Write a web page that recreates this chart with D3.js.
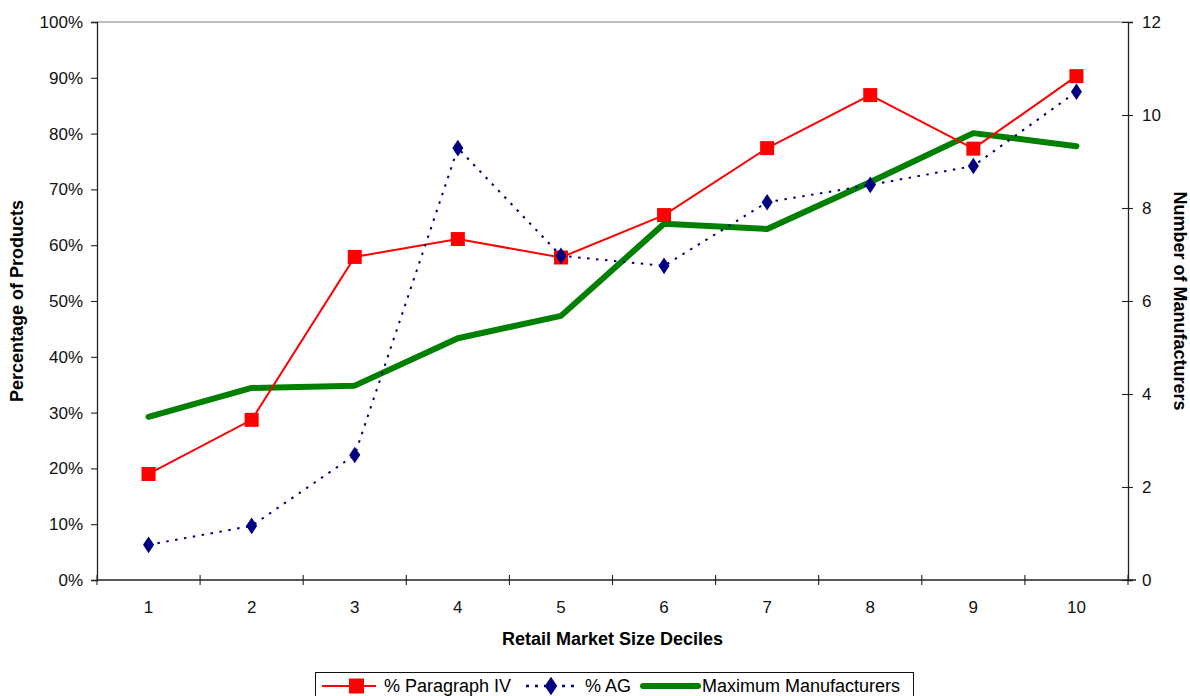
<!DOCTYPE html>
<html><head><meta charset="utf-8">
<script src="https://cdn.jsdelivr.net/npm/d3@7"></script>
<style>body{margin:0;background:#fff}svg{display:block;font-family:"Liberation Sans",Arial,sans-serif}</style>
</head><body><svg id="c" width="1190" height="696"></svg>
<script>
const categories = [1,2,3,4,5,6,7,8,9,10];
const paragraphIV = [0.19,0.287,0.579,0.611,0.578,0.654,0.774,0.869,0.773,0.903];
const pctAG = [0.063,0.097,0.224,0.774,0.581,0.563,0.677,0.708,0.742,0.875];
const maxManufacturers = [3.51,4.13,4.18,5.2,5.68,7.66,7.55,8.56,9.61,9.33];
const leftTicks = [0,0.1,0.2,0.3,0.4,0.5,0.6,0.7,0.8,0.9,1];
const rightTicks = [0,2,4,6,8,10,12];

const svg = d3.select("#c");
const L=97, R=1128, T=22, B=580;
const x = d3.scaleBand().domain(categories).range([L,R]);
const xc = d => x(d)+x.bandwidth()/2;
const yL = d3.scaleLinear().domain([0,1]).range([B,T]);
const yR = d3.scaleLinear().domain([0,12]).range([B,T]);
const FS = 17;

// top border
svg.append("line").attr("x1",L).attr("x2",R).attr("y1",T).attr("y2",T).attr("stroke","#808080").attr("stroke-width",1.2);

// left axis
const gl = svg.append("g").attr("transform",`translate(${L},0)`)
  .call(d3.axisLeft(yL).tickValues(leftTicks).tickFormat(d3.format(".0%")).tickSize(6).tickPadding(8));
// right axis
const gr = svg.append("g").attr("transform",`translate(${R},0)`)
  .call(d3.axisRight(yR).tickValues(rightTicks).tickSize(5).tickPadding(9));
gr.selectAll(".tick line").attr("x1",-6).attr("x2",5);
// bottom axis
const gb = svg.append("g").attr("transform",`translate(0,${B})`)
  .call(d3.axisBottom(x).tickSize(0).tickPadding(21));
[gl,gr,gb].forEach(g=>{
  g.select(".domain").attr("stroke","#222").attr("stroke-width",1.3);
  g.selectAll(".tick line").attr("stroke","#222").attr("stroke-width",1.1);
  g.selectAll("text").attr("font-size",FS).attr("fill","#111").attr("font-family","Liberation Sans, Arial, sans-serif");
});
gb.select(".domain").attr("d",`M${L},0H${R+8}`);
// bottom separators between categories
const seps = categories.map(c=>x(c)).concat([R]);
gb.selectAll(".sep").data(seps).enter().append("line")
  .attr("x1",d=>d).attr("x2",d=>d).attr("y1",-5).attr("y2",5).attr("stroke","#222").attr("stroke-width",1.1);

// axis titles
svg.append("text").attr("x",(L+R)/2).attr("y",645).attr("text-anchor","middle")
  .attr("font-size",18).attr("font-weight","bold").text("Retail Market Size Deciles");
svg.append("text").attr("transform",`translate(23,${(T+B)/2}) rotate(-90)`).attr("text-anchor","middle")
  .attr("font-size",18).attr("font-weight","bold").text("Percentage of Products");
svg.append("text").attr("transform",`translate(1174,${(T+B)/2}) rotate(90)`).attr("text-anchor","middle")
  .attr("font-size",18).attr("font-weight","bold").text("Number of Manufacturers");

// series
const lineL = d3.line().x((d,i)=>xc(categories[i])).y(d=>yL(d));
const lineR = d3.line().x((d,i)=>xc(categories[i])).y(d=>yR(d));

svg.append("path").attr("d",lineR(maxManufacturers)).attr("fill","none")
  .attr("stroke","#008000").attr("stroke-width",6).attr("stroke-linejoin","round").attr("stroke-linecap","round");

svg.append("path").attr("d",lineL(paragraphIV)).attr("fill","none").attr("stroke","#ff0000").attr("stroke-width",2);
svg.selectAll(".sq").data(paragraphIV).enter().append("rect")
  .attr("x",(d,i)=>xc(categories[i])-7).attr("y",d=>yL(d)-7).attr("width",14).attr("height",14).attr("fill","#ff0000");

svg.append("path").attr("d",lineL(pctAG)).attr("fill","none").attr("stroke","#000080")
  .attr("stroke-width",2).attr("stroke-dasharray","2.5,6.5");
const dia = d3.symbol().type(d3.symbolDiamond).size(80);
svg.selectAll(".dm").data(pctAG).enter().append("path")
  .attr("d",dia).attr("transform",(d,i)=>`translate(${xc(categories[i])},${yL(d)}) scale(1.15,1)`).attr("fill","#000080");

// legend
const lg = svg.append("g");
lg.append("rect").attr("x",315.5).attr("y",672.5).attr("width",598).attr("height",30).attr("fill","#fff").attr("stroke","#111").attr("stroke-width",1);
const ly = 686;
lg.append("line").attr("x1",322).attr("x2",376).attr("y1",ly).attr("y2",ly).attr("stroke","#ff0000").attr("stroke-width",2);
lg.append("rect").attr("x",349).attr("y",ly-7.5).attr("width",15).attr("height",15).attr("fill","#ff0000");
lg.append("text").attr("x",384).attr("y",ly+6).attr("font-size",18).text("% Paragraph IV");
lg.append("line").attr("x1",526).attr("x2",580).attr("y1",ly).attr("y2",ly).attr("stroke","#000080").attr("stroke-width",2.5).attr("stroke-dasharray","3,6");
lg.append("path").attr("d",dia).attr("transform",`translate(551,${ly}) scale(1.3,1.1)`).attr("fill","#000080");
lg.append("text").attr("x",585).attr("y",ly+6).attr("font-size",18).text("% AG");
lg.append("line").attr("x1",643).attr("x2",698).attr("y1",ly).attr("y2",ly).attr("stroke","#008000").attr("stroke-width",6).attr("stroke-linecap","round");
lg.append("text").attr("x",702).attr("y",ly+6).attr("font-size",18).text("Maximum Manufacturers");
</script></body></html>
